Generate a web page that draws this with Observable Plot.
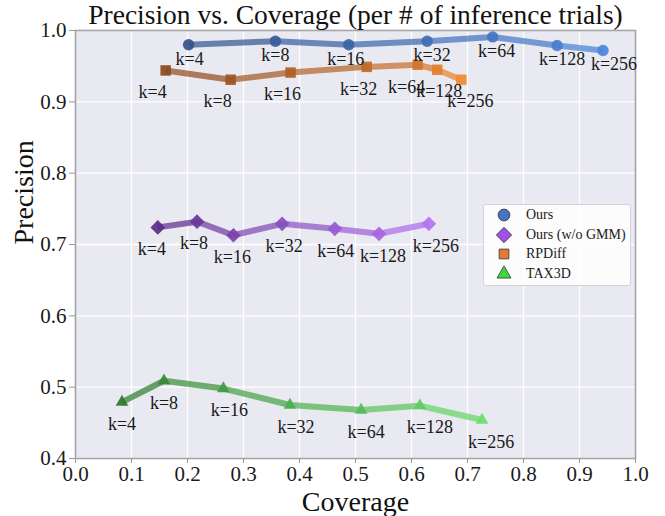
<!DOCTYPE html>
<html><head><meta charset="utf-8">
<script src="https://cdn.jsdelivr.net/npm/d3@7"></script>
<script src="https://cdn.jsdelivr.net/npm/@observablehq/plot@0.6"></script>
<style>
body{margin:0;background:#fff;}
#wrap{position:relative;width:665px;height:516px;font-family:'Liberation Serif','Times New Roman',serif;}
#legend{position:absolute;left:483px;top:204px;width:148px;height:82px;box-sizing:border-box;background:rgba(255,255,255,0.85);border:1px solid #d2d2da;border-radius:3px;font-size:14px;color:#1a1a1a;}
.row{position:absolute;left:0;height:20px;display:flex;align-items:center;white-space:nowrap;}
.row svg{margin-left:10px;margin-right:12px;}
</style></head><body><div id="wrap"></div>
<script>
// ---------- data ----------
const kLabels = ["k=4","k=8","k=16","k=32","k=64","k=128","k=256"];
const seriesNames = ["Ours","Ours (w/o GMM)","RPDiff","TAX3D"];
const oursCoverage      = [0.202,0.357,0.488,0.628,0.745,0.860,0.942];
const oursPrecision     = [0.980,0.985,0.980,0.985,0.991,0.979,0.972];
const noGmmCoverage     = [0.147,0.217,0.282,0.369,0.463,0.542,0.631];
const noGmmPrecision    = [0.724,0.732,0.713,0.729,0.722,0.715,0.729];
const rpdiffCoverage    = [0.161,0.277,0.384,0.520,0.611,0.646,0.689];
const rpdiffPrecision   = [0.944,0.931,0.941,0.949,0.952,0.945,0.931];
const tax3dCoverage     = [0.083,0.158,0.264,0.383,0.510,0.615,0.726];
const tax3dPrecision    = [0.479,0.509,0.498,0.475,0.468,0.474,0.454];
const xTicks = [0.0,0.1,0.2,0.3,0.4,0.5,0.6,0.7,0.8,0.9,1.0];
const yTicks = [0.4,0.5,0.6,0.7,0.8,0.9,1.0];

// ---------- style ----------
const coverages = [oursCoverage, noGmmCoverage, rpdiffCoverage, tax3dCoverage];
const precisions = [oursPrecision, noGmmPrecision, rpdiffPrecision, tax3dPrecision];
const colorStart = ["#33538a","#5a2b88","#8a4a20","#2d792d"];
const colorEnd   = ["#4c86dc","#b472f2","#f28a32","#6ade6a"];
const symbols = ["circle","diamond2","square","triangle"];
const radii = [5.7,6.6,5.9,4.7];
const legendFill = ["#4773c4","#a052e4","#e47a35","#3fd63f"];
const labelDy = [14,22,22,22];
const labelDx = [
  [1,0,-3,5,4,5,11],
  [-6,-3,-1,2,1,4,7],
  [-13,-13,-8,-8,-11,2,9],
  [0,0,6,6,5,10,9]
];

const segments = [], points = [];
seriesNames.forEach((name, s) => {
  const cov = coverages[s], pre = precisions[s];
  const interp = d3.interpolateRgb(colorStart[s], colorEnd[s]);
  const n = cov.length;
  for (let i = 0; i < n; i++) {
    points.push({s, i, name, x: cov[i], y: pre[i], label: kLabels[i], color: interp(i/(n-1))});
    if (i < n-1) segments.push({s, x1: cov[i], y1: pre[i], x2: cov[i+1], y2: pre[i+1], color: interp((i+0.5)/(n-1))});
  }
});

const marks = [
  Plot.frame({fill:"#e9e9f1", stroke:null}),
  Plot.gridX(xTicks, {stroke:"white", strokeOpacity:1, strokeWidth:1.3}),
  Plot.gridY(yTicks, {stroke:"white", strokeOpacity:1, strokeWidth:1.3}),
  Plot.frame({stroke:"#a4a4ac", strokeWidth:1.6, fill:"none"}),
  Plot.axisX(xTicks, {tickFormat: d => d.toFixed(1), tickSize:5, tickPadding:3, stroke:"#999", fill:"#1a1a1a", label:null, fontSize:21}),
  Plot.axisY(yTicks, {tickFormat: d => d.toFixed(1), tickSize:6, tickPadding:3, stroke:"#999", fill:"#1a1a1a", label:null, fontSize:21}),
  Plot.link(segments, {x1:"x1", y1:"y1", x2:"x2", y2:"y2", stroke:"color", strokeWidth:6, strokeOpacity:0.72})
];
seriesNames.forEach((name, s) => {
  marks.push(Plot.dot(points.filter(p => p.s === s), {x:"x", y:"y", fill:"color", fillOpacity:0.92, symbol: symbols[s], r: radii[s], stroke:null}));
});
points.forEach(p => {
  marks.push(Plot.text([p], {x:"x", y:"y", text:"label", dx: labelDx[p.s][p.i], dy: labelDy[p.s], fontSize:18, fill:"#1a1a1a"}));
});
marks.push(
  Plot.text(["Precision vs. Coverage (per # of inference trials)"], {text: d => d, frameAnchor:"top", lineAnchor:"middle", dy:-15, fontSize:27.5, fill:"#111"}),
  Plot.text(["Coverage"], {text: d => d, frameAnchor:"bottom", lineAnchor:"middle", dy:44, fontSize:28, fill:"#111"}),
  Plot.text(["Precision"], {text: d => d, frameAnchor:"left", lineAnchor:"middle", dx:-51, rotate:-90, fontSize:28, fill:"#111"})
);

const chart = Plot.plot({
  width:665, height:516,
  marginLeft:75, marginRight:30, marginTop:30, marginBottom:58,
  x:{domain:[0,1], label:null},
  y:{domain:[0.4,1.0], label:null},
  color:{type:"identity"},
  style:{fontFamily:"'Liberation Serif','Times New Roman',serif", fontSize:"21px", background:"white", overflow:"visible"},
  marks
});
const wrap = document.getElementById("wrap");
wrap.appendChild(chart);

// legend
const legend = document.createElement("div");
legend.id = "legend";
const symPath = (sym, size) => d3.symbol(sym, size)();
const d3Syms = [d3.symbolCircle, d3.symbolDiamond2, d3.symbolSquare, d3.symbolTriangle];
const legSizes = [110, 150, 95, 85];
seriesNames.forEach((name, s) => {
  const row = document.createElement("div");
  row.className = "row";
  row.style.top = (0 + s*19.6) + "px";
  row.innerHTML = `<svg width="20" height="20" viewBox="-10 -10 20 20"><path d="${symPath(d3Syms[s], legSizes[s])}" fill="${legendFill[s]}" stroke="#333" stroke-width="0.8"/></svg><span>${name}</span>`;
  legend.appendChild(row);
});
wrap.appendChild(legend);
</script></body></html>
